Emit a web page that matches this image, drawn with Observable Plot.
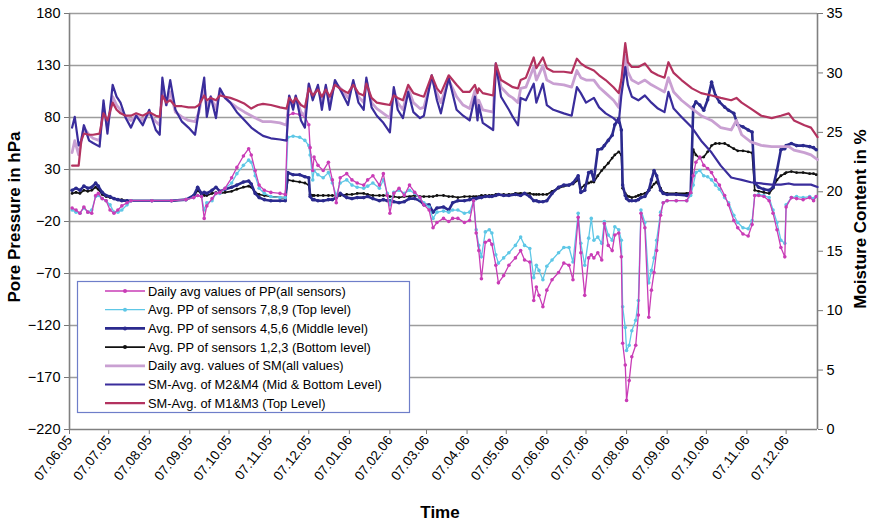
<!DOCTYPE html>
<html><head><meta charset="utf-8">
<script src="https://cdn.jsdelivr.net/npm/d3@7"></script>
<script src="https://cdn.jsdelivr.net/npm/@observablehq/plot@0.6"></script>
<style>
html,body{margin:0;padding:0;background:#fff;}
#chart{position:relative;width:874px;height:524px;}
</style></head><body><div id="chart"></div>
<script>
// ---- time axis (days since 07.06.2005) ----
const startDate = "2005-06-07";
const endDate = "2006-12-31";
const monthTickLabels = ["07.06.05","07.07.05","07.08.05","07.09.05","07.10.05","07.11.05","07.12.05","07.01.06","07.02.06","07.03.06","07.04.06","07.05.06","07.06.06","07.07.06","07.08.06","07.09.06","07.10.06","07.11.06","07.12.06"];
const leftTicks = [-220,-170,-120,-70,-20,30,80,130,180];
const rightTicks = [0,5,10,15,20,25,30,35];

// ---- Pore pressure (hPa) ----
const ppDays = [
2,5,8,11,14,17,20,22,25,28,
31,34,37,40,44,47,63,78,89,95,
98,101,103,105,109,112,115,119,124,128,
133,137,139,142,145,149,154,161,165,167,
171,176,180,183,184,186,187,190,194,198,
201,204,207,212,216,220,225,228,232,237,
240,243,245,248,252,256,260,264,268,271,
275,278,281,286,290,293,297,302,306,309,
311,313,315,318,321,323,326,328,332,336,
341,345,348,352,355,357,359,362,365,369,
374,378,382,385,389,391,394,397,399,401,
404,407,409,412,415,417,420,422,423,425,
426,428,430,433,435,437,440,443,445,447,
449,452,454,457,464,472,475,477,479,482,
485,488,491,494,497,501,504,508,511,515,
519,522,524,527,531,535,538,541,544,547,
548,552,556,561,566,569,571];
const ppAll = [
-7,-9,-12,-6,-11,-12,5,7,2,0,
-9,-12,-9,-5,-2,0,0,0,1,3,
5,4,-17,-5,2,7,8,12,22,32,
43,50,44,29,15,10,8,7,6,82,
84,83,81,73,51,29,42,34,29,37,
20,-2,22,26,20,17,15,20,24,15,
26,5,-12,7,12,5,15,8,3,-4,
-9,-26,-21,-17,-20,-17,-17,-21,-19,0,
-31,-48,-75,-40,-38,-42,-62,-79,-72,-62,
-55,-48,-57,-59,-96,-83,-91,-102,-86,-76,
-69,-60,-62,-76,-16,-50,-91,-55,-52,-55,
-50,-57,-22,-43,-48,-33,-31,-54,-137,-158,
-192,-173,-150,-139,-110,-12,-26,-112,-86,-69,
-48,-14,-2,0,0,0,8,24,37,42,
34,31,27,20,15,5,-4,-19,-26,-32,
-34,-23,5,5,4,0,-12,-28,-45,-54,
-6,3,2,1,3,0,4];
const ppTop = [
-9,-11,-12,-7,-11,-9,4,5,2,0,
-4,-11,-11,-9,-4,0,0,0,1,3,
5,4,-9,-2,0,7,7,12,17,26,
34,39,37,24,12,7,4,3,3,61,
62,61,58,53,44,20,29,25,22,27,
17,5,17,20,15,13,12,14,17,12,
20,7,-4,8,10,7,10,7,2,-2,
-6,-17,-11,-10,-11,-9,-9,-12,-11,0,
-28,-43,-54,-30,-28,-31,-52,-60,-55,-50,
-43,-35,-43,-46,-74,-62,-67,-76,-63,-57,
-50,-45,-45,-59,-12,-41,-62,-36,-17,-38,
-35,-41,-20,-33,-38,-25,-28,-38,-102,-122,
-144,-139,-125,-115,-96,-9,-21,-79,-67,-55,
-38,-11,-2,0,0,0,5,15,27,29,
24,23,20,15,11,3,-2,-14,-21,-26,
-27,-19,5,6,5,3,-9,-21,-38,-41,
-4,3,4,3,4,2,4];
const ppMiddle = [
10,12,10,14,12,13,17,14,8,5,
4,2,1,0,0,0,0,0,1,5,
13,7,8,7,10,13,9,11,13,15,
18,19,16,7,3,1,0,0,0,27,
25,25,23,22,4,1,1,0,0,1,
1,3,7,3,2,3,3,4,2,0,
1,0,0,-1,-2,-1,2,2,0,-4,
-4,-11,-7,-6,-9,-2,0,0,1,2,
2,3,3,4,4,4,5,6,5,5,
6,5,7,4,0,0,-1,-1,0,7,
13,15,15,17,24,8,10,27,28,20,
49,50,53,58,63,73,79,68,15,5,
2,0,0,0,1,3,4,10,20,29,
24,10,7,6,6,5,7,90,95,92,
87,97,114,101,95,90,87,84,73,71,
68,66,17,13,11,10,13,29,49,50,
53,55,53,53,52,51,49];
const ppBottom = [
7,8,7,10,9,10,13,11,6,4,
3,2,1,1,0,0,0,0,1,4,
10,6,5,5,7,8,7,8,9,11,
13,14,13,8,6,5,4,3,3,20,
19,18,17,15,6,5,5,5,5,5,
5,5,5,6,6,7,7,6,5,5,
5,5,4,4,3,4,4,5,4,4,
4,4,5,5,4,4,3,4,4,4,
4,4,5,5,5,5,6,6,6,6,
7,7,7,7,6,6,6,6,6,9,
12,14,15,16,20,12,15,17,18,18,
24,29,32,36,41,44,47,44,12,7,
5,4,3,4,5,6,7,10,13,16,
18,12,8,7,7,7,8,49,44,41,
42,47,53,55,55,55,53,50,48,48,
47,46,10,9,8,7,12,20,24,26,
27,28,27,27,26,26,25];

// ---- Soil moisture (%) ----
const smDays = [
2,4,7,9,11,15,18,23,26,29,
33,36,39,43,47,51,56,61,66,69,
71,74,77,81,86,91,96,99,103,105,
108,112,115,119,123,128,134,139,144,148,
154,161,166,168,171,173,177,180,183,186,
190,193,196,199,203,208,213,217,221,225,
227,231,235,240,245,248,251,255,259,263,
268,271,277,281,284,290,296,301,306,310,
312,313,316,324,326,330,336,339,343,345,
349,355,357,362,365,370,378,384,388,391,
395,401,405,410,416,420,422,425,427,430,
435,440,445,450,455,458,462,468,476,483,
491,498,506,510,514,521,529,537,544,550,
554,562,567,572];
const smTop = [
22.2,22.2,22.2,24.3,24.9,24.8,24.8,24.9,26.6,26.0,
27.5,26.9,26.6,26.4,26.4,26.6,26.4,26.7,26.4,26.3,
28.1,27.5,27.7,27.2,27.2,27.1,27.1,27.3,28.1,27.7,
27.9,27.7,28.1,28.0,27.9,27.7,27.4,27.0,27.3,27.4,
27.3,27.1,27.0,27.9,27.5,27.9,27.3,27.1,28.7,28.1,
28.6,28.0,28.6,28.0,29.0,28.6,28.3,29.0,28.3,28.1,
29.1,27.9,27.5,27.4,27.3,28.1,27.9,27.7,29.0,28.3,
28.1,28.0,29.8,28.7,28.3,29.8,29.0,28.4,28.4,29.0,
28.3,28.7,28.3,28.1,30.8,29.4,29.0,28.8,28.7,29.4,
29.6,31.3,30.4,31.3,30.4,30.1,30.1,30.0,31.2,30.8,
30.5,30.2,29.8,29.4,28.8,28.3,29.4,32.5,30.9,30.5,
30.5,30.8,30.1,29.8,29.6,30.9,30.0,29.4,28.7,28.3,
28.1,27.9,27.7,27.9,27.5,27.0,26.4,26.2,26.4,26.6,
26.0,25.6,25.4,24.6];
const smAll = [
23.3,24.3,23.1,24.3,25.4,24.8,24.5,24.3,27.1,25.4,
28.0,27.3,26.9,26.3,26.0,26.4,26.0,26.6,25.9,25.6,
29.1,27.3,28.4,26.7,26.3,26.0,25.9,26.7,29.0,27.0,
28.0,27.0,28.5,27.9,27.5,27.1,26.7,26.4,26.1,25.9,
25.9,25.8,25.6,28.0,27.1,28.0,26.7,26.4,29.0,28.0,
28.8,27.5,28.8,27.5,29.2,28.6,27.9,29.2,28.0,27.5,
29.4,27.5,27.0,26.6,26.2,28.6,27.5,26.9,28.7,27.5,
27.0,27.1,29.6,28.3,27.5,29.4,28.0,27.3,27.0,28.5,
27.0,27.7,26.9,26.7,30.6,28.8,28.1,27.9,27.5,28.7,
28.8,30.5,29.4,30.6,29.4,29.1,29.0,28.8,30.2,29.6,
29.4,29.4,28.8,28.3,27.7,27.1,29.0,31.5,30.1,29.4,
29.1,29.4,29.0,28.7,28.4,29.6,28.4,27.7,27.0,26.4,
26.0,25.4,25.2,26.0,24.8,24.2,23.9,23.8,23.8,23.8,
23.5,23.3,23.1,22.7];
const smMidBottom = [
25.4,26.3,23.9,24.3,25.6,24.3,24.1,23.8,27.7,24.9,
29.0,28.0,27.5,26.2,25.4,26.4,25.6,26.9,25.2,24.8,
29.6,27.3,29.4,26.9,25.9,25.4,24.8,26.9,29.6,26.3,
28.0,26.2,28.7,27.9,27.5,26.7,26.0,25.4,25.0,24.7,
24.5,24.4,24.3,28.1,26.9,28.1,26.0,25.4,29.1,27.7,
29.0,26.9,29.0,26.9,29.4,28.4,27.3,29.4,27.5,26.9,
29.6,27.1,26.4,25.8,25.0,28.8,26.9,26.2,28.4,26.7,
26.2,26.4,29.8,27.7,26.6,29.6,26.9,26.4,26.0,28.0,
26.0,27.3,25.8,25.2,30.8,28.0,26.9,26.3,25.6,27.9,
27.7,29.1,27.5,29.1,27.3,26.9,26.6,26.4,28.8,28.3,
27.5,27.9,27.1,26.6,26.2,25.8,28.1,30.5,29.0,28.0,
27.7,28.1,27.5,27.0,26.7,28.4,27.0,26.3,25.4,24.3,
23.3,22.2,21.2,21.1,21.0,20.8,20.7,20.6,20.6,20.7,
20.6,20.6,20.6,20.4];

// ---- build ----
const parseISO = d3.utcParse("%Y-%m-%d");
const parseTick = d3.utcParse("%d.%m.%y");
const t0 = parseISO(startDate), t1 = parseISO(endDate);
const toDate = day => d3.utcDay.offset(t0, day);
const toLeft = pct => -220 + pct * 400 / 35;   // right axis (0–35 %) on left scale (-220–180 hPa)
const mk = (days, vals) => days.map((d, i) => ({date: toDate(d), v: vals[i]}));
const monthTicks = monthTickLabels.map(parseTick);

const C = {
  all: "#c93cb6", top: "#5ec7e6", mid: "#2b2a8e", bot: "#111111",
  smAll: "#c9a0d2", smMB: "#3a2d9c", smTop: "#b3325f"
};

const A = mk(ppDays, ppAll), T = mk(ppDays, ppTop), M = mk(ppDays, ppMiddle), B = mk(ppDays, ppBottom);
const SA = mk(smDays, smAll), SD = mk(smDays, smMidBottom), SC = mk(smDays, smTop);

const svg = Plot.plot({
  width: 874, height: 524,
  marginLeft: 69, marginRight: 57, marginTop: 13, marginBottom: 95,
  style: {fontFamily: "'Liberation Sans', Arial, sans-serif", fontSize: "14px", background: "white", color: "#000"},
  x: {type: "utc", domain: [t0, t1]},
  y: {domain: [-220, 180]},
  marks: [
    Plot.ruleY(leftTicks.filter(v => v > -220), {stroke: "#9d9d9d", strokeWidth: 1.6}),
    Plot.axisY(leftTicks, {anchor: "left", tickSize: 5, tickPadding: 4, label: null, fontSize: 14.5, stroke: "#777"}),
    Plot.axisY(rightTicks, {anchor: "right", y: toLeft, tickFormat: d => String(d), tickSize: 5, tickPadding: 4, label: null, fontSize: 14.5, stroke: "#777"}),
    Plot.axisX(monthTicks, {tickFormat: d3.utcFormat("%d.%m.%y"), tickRotate: -52, tickSize: 5, tickPadding: 3, label: null, fontSize: 13.5, stroke: "#777"}),
    Plot.ruleX([t0, t1], {stroke: "#808080", strokeWidth: 1.6}),
    Plot.ruleY([-220], {stroke: "#808080", strokeWidth: 1.6}),
    // pore pressure series
    Plot.line(B, {x: "date", y: "v", stroke: C.bot, strokeWidth: 1.6}),
    Plot.dot(B, {x: "date", y: "v", r: 1.4, fill: C.bot}),
    Plot.line(M, {x: "date", y: "v", stroke: C.mid, strokeWidth: 2.6}),
    Plot.dot(M, {x: "date", y: "v", r: 1.8, fill: C.mid}),
    Plot.line(T, {x: "date", y: "v", stroke: C.top, strokeWidth: 1.3}),
    Plot.dot(T, {x: "date", y: "v", r: 1.8, fill: C.top}),
    Plot.line(A, {x: "date", y: "v", stroke: C.all, strokeWidth: 1.3}),
    Plot.dot(A, {x: "date", y: "v", r: 1.8, fill: C.all}),
    // soil moisture series (right axis)
    Plot.line(SA, {x: "date", y: d => toLeft(d.v), stroke: C.smAll, strokeWidth: 2.8}),
    Plot.line(SD, {x: "date", y: d => toLeft(d.v), stroke: C.smMB, strokeWidth: 2.2}),
    Plot.line(SC, {x: "date", y: d => toLeft(d.v), stroke: C.smTop, strokeWidth: 2.2})
  ]
});
document.getElementById("chart").appendChild(svg);

// ---- axis titles & legend ----
const s = d3.select(svg);
const titleFont = "'Liberation Sans', Arial, sans-serif";
s.append("text").attr("transform", "translate(14,217) rotate(-90)")
  .attr("text-anchor", "middle").attr("dominant-baseline", "central")
  .attr("font-family", titleFont).attr("font-weight", "bold").attr("font-size", 17).text("Pore Pressure in hPa");
s.append("text").attr("transform", "translate(860,219) rotate(-90)")
  .attr("text-anchor", "middle").attr("dominant-baseline", "central")
  .attr("font-family", titleFont).attr("font-weight", "bold").attr("font-size", 17).text("Moisture Content in %");
s.append("text").attr("x", 440).attr("y", 512)
  .attr("text-anchor", "middle").attr("dominant-baseline", "central")
  .attr("font-family", titleFont).attr("font-weight", "bold").attr("font-size", 17).text("Time");

const legendItems = [
  {label: "Daily avg values of PP(all sensors)", color: C.all, w: 1.3, dot: true},
  {label: "Avg. PP of sensors 7,8,9 (Top level)", color: C.top, w: 1.3, dot: true},
  {label: "Avg. PP of sensors 4,5,6 (Middle level)", color: C.mid, w: 2.6, dot: true},
  {label: "Avg. PP of sensors 1,2,3 (Bottom level)", color: C.bot, w: 1.6, dot: true},
  {label: "Daily avg. values of SM(all values)", color: C.smAll, w: 2.8, dot: false},
  {label: "SM-Avg. of M2&M4 (Mid & Bottom Level)", color: C.smMB, w: 2.2, dot: false},
  {label: "SM-Avg. of M1&M3 (Top Level)", color: C.smTop, w: 2.2, dot: false}
];
const lg = s.append("g");
lg.append("rect").attr("x", 77.5).attr("y", 281.5).attr("width", 332).attr("height", 131)
  .attr("fill", "white").attr("stroke", "#6e7ec9").attr("stroke-width", 1.2);
legendItems.forEach((it, i) => {
  const y = 291 + i * 18.7;
  lg.append("line").attr("x1", 105).attr("x2", 145).attr("y1", y).attr("y2", y)
    .attr("stroke", it.color).attr("stroke-width", it.w);
  if (it.dot) lg.append("circle").attr("cx", 125).attr("cy", y).attr("r", 2).attr("fill", it.color);
  lg.append("text").attr("x", 148).attr("y", y).attr("text-anchor", "start").attr("dominant-baseline", "central")
    .attr("font-family", titleFont).attr("font-size", 12.8).attr("fill", "#000").text(it.label);
});
</script>
</body></html>
